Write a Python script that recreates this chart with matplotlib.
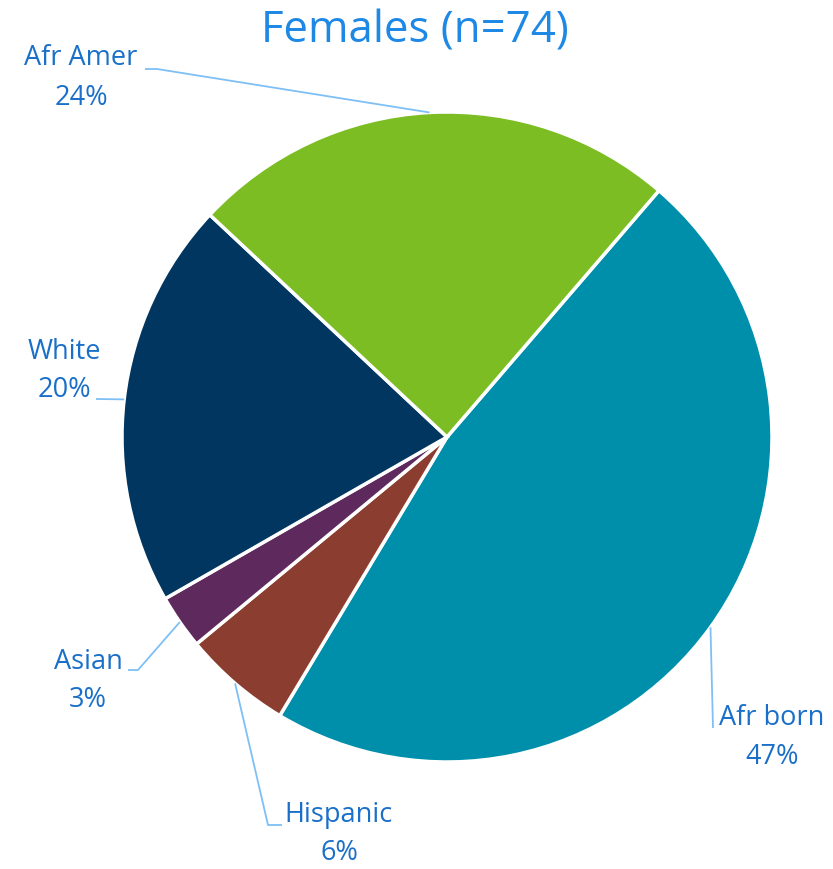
import numpy as np
import matplotlib
matplotlib.use('Agg')
import matplotlib.pyplot as plt

# data (counts out of n=74, labels as printed)
groups = ["Afr born", "Hispanic", "Asian", "White", "Afr Amer"]
counts = [35, 4, 2, 15, 18]
pct_labels = ["47%", "6%", "3%", "20%", "24%"]
colors = ["#008FAA", "#8B3E2F", "#5E2A5E", "#003660", "#7BBD22"]

W, H = 833, 869
LABEL_COLOR = "#1A70C8"
LINE_COLOR = "#7EC0F5"

# label layout in pixel coords: (text x, name y, pct y, leader points after the edge)
layout = {
    "Afr Amer": (81, 58, 98, [(157, 69), (145, 69)]),
    "White": (64, 352, 390, [(96, 399)]),
    "Asian": (88, 662, 700, [(138, 670), (128, 670)]),
    "Hispanic": (339, 815, 853, [(268, 825), (282, 825)]),
    "Afr born": (772, 718, 757, [(713, 728)]),
}


def py(y):
    return H - y


fig = plt.figure(figsize=(W / 100, H / 100), dpi=100)
ax = fig.add_axes([0, 0, 1, 1])

center = (447, py(437))
radius = 325
start = 49.3

wedges, _ = ax.pie(counts, colors=colors, startangle=start, counterclock=False,
                   center=center, radius=radius, frame=True,
                   wedgeprops=dict(edgecolor="white", linewidth=2.5))
ax.set_xlim(0, W)
ax.set_ylim(0, H)
ax.set_aspect("equal")
ax.axis("off")

font = "Open Sans"
for w, name, pct in zip(wedges, groups, pct_labels):
    mid = np.deg2rad((w.theta1 + w.theta2) / 2)
    ex = center[0] + radius * np.cos(mid)
    ey = center[1] + radius * np.sin(mid)
    tx, ny, pyy, pts = layout[name]
    xs = [ex] + [p[0] for p in pts]
    ys = [ey] + [py(p[1]) for p in pts]
    ax.plot(xs, ys, color=LINE_COLOR, lw=1.3, solid_capstyle="butt")
    ax.text(tx, py(ny), name, ha="center", va="center", fontsize=19.5,
            color=LABEL_COLOR, family=font)
    ax.text(tx, py(pyy), pct, ha="center", va="center", fontsize=19.5,
            color=LABEL_COLOR, family=font)

ax.text(415, py(31), "Females (n=74)", ha="center", va="center", fontsize=31.5,
        color="#1E88E5", family=font)

fig.savefig("out.png", dpi=100)
